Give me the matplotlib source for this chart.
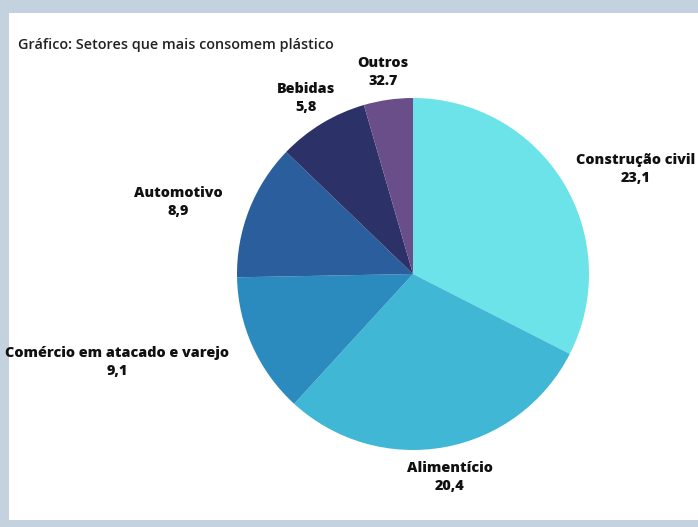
import matplotlib
matplotlib.use("Agg")
import matplotlib.pyplot as plt
from matplotlib.patches import Rectangle

# ---- data ----
categories = ["Construção civil", "Alimentício", "Comércio em atacado e varejo",
              "Automotivo", "Bebidas", "Outros"]
slice_sizes = [32.5, 29.3, 12.9, 12.5, 8.3, 4.5]          # slice shares as drawn
value_labels = ["23,1", "20,4", "9,1", "8,9", "5,8", "32.7"]  # printed values
colors = ["#6BE3E8", "#40B7D5", "#2B8BBF", "#2A5E9C", "#2C3168", "#6A4E8A"]
title = "Gráfico: Setores que mais consomem plástico"

# ---- layout (pixel coords, y measured from top) ----
W, H = 698, 527
center = (413, 274)
radius = 176
label_pos = [(636, 169), (450, 477), (117, 362), (178, 202), (306, 98), (383, 72)]

plt.rcParams['font.family'] = ['Open Sans', 'DejaVu Sans']

fig = plt.figure(figsize=(W / 100, H / 100), dpi=100)
fig.patch.set_facecolor("#c4d2df")
ax = fig.add_axes([0, 0, 1, 1])

ax.add_patch(Rectangle((9, 7), W - 9, H - 20, facecolor="white",
                       edgecolor="none", zorder=0))

ax.pie(slice_sizes, colors=colors, startangle=90, counterclock=False,
       center=(center[0], H - center[1]), radius=radius, frame=True,
       wedgeprops=dict(linewidth=0))

for cat, val, (x, y) in zip(categories, value_labels, label_pos):
    ax.text(x, H - y, f"{cat}\n{val}", ha="center", va="center",
            fontsize=10.4, fontweight="heavy", color="#111111",
            linespacing=1.4, zorder=5)

ax.text(18, H - 45, title, ha="left", va="center", fontsize=10.4,
        fontweight="semibold", color="#222222")

ax.set_xlim(0, W)
ax.set_ylim(0, H)
ax.set_aspect("equal")
ax.axis("off")

fig.savefig("out.png", dpi=100, facecolor=fig.get_facecolor())
